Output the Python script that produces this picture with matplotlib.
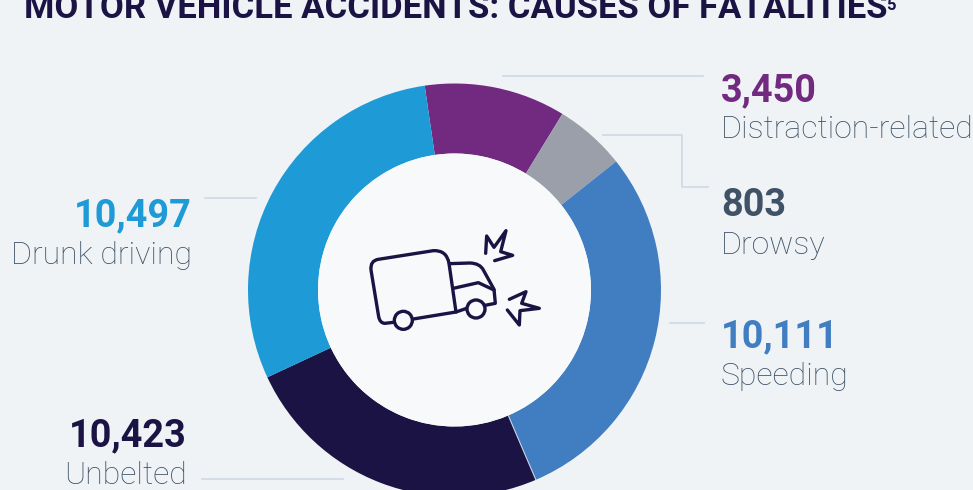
"""
Motor vehicle accidents donut, drawn in pixel coordinates of the 973x490 picture.
"""
import matplotlib
matplotlib.use('Agg')
import matplotlib.pyplot as plt
from matplotlib.path import Path
from matplotlib.patches import PathPatch, Circle
import numpy as np

W, H = 973, 490

# values as printed next to the ring
causes = ['Distraction-related', 'Drowsy', 'Speeding', 'Unbelted', 'Drunk driving']
fatalities = [3450, 803, 10111, 10423, 10497]
# the ring is not to scale with the printed numbers, so the shares are read off the ring itself
ring_shares = [39.8, 20.0, 105.3, 88.2, 106.7]
colors = ['#722a80', '#9a9fa9', '#417dc1', '#1a1344', '#1e9ad6']
number_colors = ['#722a80', '#3f5266', '#417dc1', '#1a1344', '#1e9ad6']

BG = '#eff3f6'
INNER = '#f8f9fb'
LINE = '#cfd8e4'
LABEL = '#3f5266'
DARK = '#1a1344'
FONT = 'Roboto'
START = 98.3
CX, CY, R_OUT, R_IN = 454.5, 200, 206.5, 136.5

fig = plt.figure(figsize=(W / 100, H / 100), dpi=100, facecolor=BG)
ax = fig.add_axes([0, 0, 1, 1])


def fy(y):
    return H - y


ax.pie(ring_shares, colors=colors, center=(CX, CY), radius=R_OUT,
       startangle=START, counterclock=False, frame=True,
       wedgeprops=dict(width=R_OUT - R_IN, linewidth=0))
ax.add_patch(Circle((CX, CY), R_IN, fc=INNER, lw=0, zorder=3))
ax.set_xlim(0, W)
ax.set_ylim(0, H)
ax.set_aspect('auto')
ax.axis('off')

# thin light seam between speeding and unbelted
seam = np.radians(START - sum(ring_shares[:3]))
ax.plot([CX + R_IN * np.cos(seam), CX + R_OUT * np.cos(seam)],
        [CY + R_IN * np.sin(seam), CY + R_OUT * np.sin(seam)], color='#c9d3e2', lw=0.8, zorder=2)

# leader lines
leaders = [
    [(503, 76), (703, 76)],
    [(603, 135), (682, 135), (682, 187), (708, 187)],
    [(670, 323), (704, 323)],
    [(202, 479), (343, 479)],
    [(205, 198), (256, 198)],
]
for pts in leaders:
    ax.plot([p[0] for p in pts], [fy(p[1]) for p in pts], color=LINE, lw=1.2, zorder=1)

# number and label anchors: x, number baseline, label baseline, alignment
anchors = [(721, 101, 138, 'left'), (721, 216, 254, 'left'), (721, 347, 385, 'left'),
           (187, 446, 484, 'right'), (192, 226, 264, 'right')]
for cause, val, col, (x, yn, yl, ha) in zip(causes, fatalities, number_colors, anchors):
    ax.text(x, fy(yn), f'{val:,}', color=col, fontsize=27.3, fontweight='bold', family=FONT,
            ha=ha, va='baseline')
    ax.text(x, fy(yl), cause, color=LABEL, fontsize=23, fontweight='light', family=FONT,
            ha=ha, va='baseline')

ax.text(24, fy(18), 'MOTOR VEHICLE ACCIDENTS: CAUSES OF FATALITIES', color=DARK, fontsize=24.9,
        fontweight='bold', family=FONT, ha='left', va='baseline')
ax.text(886, fy(10), '5', color=DARK, fontsize=12, fontweight='bold', family=FONT, ha='left',
        va='baseline')


# truck icon, outline points
def ic(pt):
    return (350 + pt[0] / 3, fy(220 + pt[1] / 3))


def outline(cmds):
    verts, codes = [], []
    for code, pts in cmds:
        for p in pts:
            verts.append(ic(p))
            codes.append(code)
    ax.add_patch(PathPatch(Path(verts, codes), fill=False, ec=DARK, lw=2.4, zorder=4,
                           capstyle='round', joinstyle='round'))


M, L, Q = Path.MOVETO, Path.LINETO, Path.CURVE3
outline([(M, [(130, 307)]), (L, [(105, 310)]), (Q, [(90, 310), (86, 290)]),
         (L, [(63, 150)]), (Q, [(60, 122), (85, 118)]), (L, [(250, 92)]),
         (Q, [(290, 90), (297, 130)]), (L, [(318, 276)]), (L, [(190, 297)])])
outline([(M, [(298, 131)]), (L, [(360, 129)]), (Q, [(390, 130), (400, 150)]),
         (L, [(432, 208)]), (L, [(436, 250)]), (L, [(405, 256)])])
outline([(M, [(318, 276)]), (L, [(350, 265)])])
outline([(M, [(310, 205)]), (L, [(385, 188)]), (L, [(432, 210)])])
outline([(M, [(407, 100)]), (L, [(410, 48), (432, 82), (468, 32), (452, 95), (488, 106), (434, 122)])])
outline([(M, [(478, 238)]), (L, [(528, 215), (515, 250), (568, 265), (510, 272), (508, 315), (472, 270)])])
for c in [(160, 301), (378, 267)]:
    ax.add_patch(Circle(ic(c), 9, fc=INNER, ec=DARK, lw=2.4, zorder=5))

fig.savefig('out.png', dpi=100, facecolor=BG)
